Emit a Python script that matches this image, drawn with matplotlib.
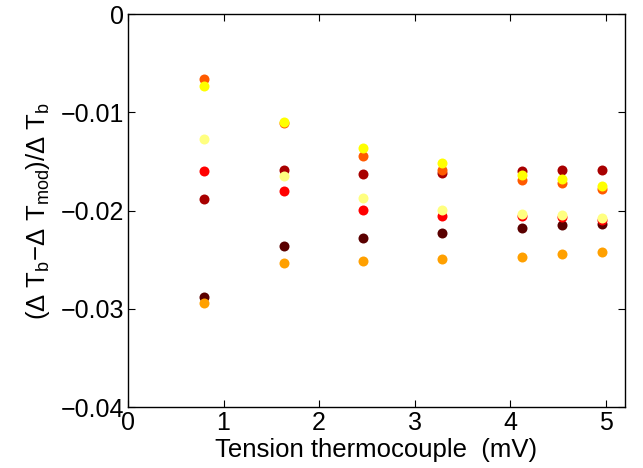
import matplotlib
matplotlib.use("Agg")
import matplotlib.pyplot as plt
import numpy as np

plt.rcParams['font.family'] = ['Liberation Sans', 'DejaVu Sans']
plt.rcParams['mathtext.fontset'] = 'custom'
plt.rcParams['mathtext.rm'] = 'Liberation Sans'

# thermocouple voltage (mV)
tension = [0.80, 1.63, 2.46, 3.29, 4.12, 4.54, 4.96]

# relative error for each run (hot colormap order)
maroon = [-0.0288, -0.0236, -0.0228, -0.0223, -0.0218, -0.0215, -0.0214]
darkred = [-0.0188, -0.0159, -0.0163, -0.0162, -0.0160, -0.0159, -0.0159]
red = [-0.0160, -0.0180, -0.0199, -0.0205, -0.0206, -0.0207, -0.0210]
orangered = [-0.0066, -0.0111, -0.0144, -0.0159, -0.0169, -0.0172, -0.0178]
orange = [-0.0294, -0.0253, -0.0251, -0.0249, -0.0247, -0.0244, -0.0242]
yellow = [-0.0073, -0.0110, -0.0136, -0.0152, -0.0164, -0.0168, -0.0175]
lightyellow = [-0.0127, -0.0165, -0.0187, -0.0199, -0.0203, -0.0204, -0.0208]

series = [maroon, darkred, red, orangered, orange, yellow, lightyellow]
colors = ['#5a0000', '#a80000', '#ff0000', '#ff5a00', '#ffa000', '#ffff00', '#ffff80']

fig = plt.figure(figsize=(6.43, 4.68), dpi=100)
ax = fig.add_axes([0.199, 0.130, 0.773, 0.840])

for vals, c in zip(series, colors):
    ax.plot(tension, vals, 'o', color=c, markersize=7.2, markeredgewidth=0)

ax.set_xlim(0, 5.2)
ax.set_ylim(-0.04, 0)
ax.set_xticks([0, 1, 2, 3, 4, 5])
ax.set_yticks([-0.04, -0.03, -0.02, -0.01, 0])
ax.set_yticklabels(['\u22120.04', '\u22120.03', '\u22120.02', '\u22120.01', '0'])
ax.tick_params(direction='in', top=True, right=True, labelsize=18, length=5, pad=3)
for s in ax.spines.values():
    s.set_linewidth(1.0)

ax.set_xlabel('Tension thermocouple  (mV)', fontsize=18.5, labelpad=2)
ax.set_ylabel(r'(Δ T$_\mathregular{b}$−Δ T$_\mathregular{mod}$)/Δ T$_\mathregular{b}$',
              fontsize=18.5, labelpad=6)

fig.savefig('out.png', dpi=100)
